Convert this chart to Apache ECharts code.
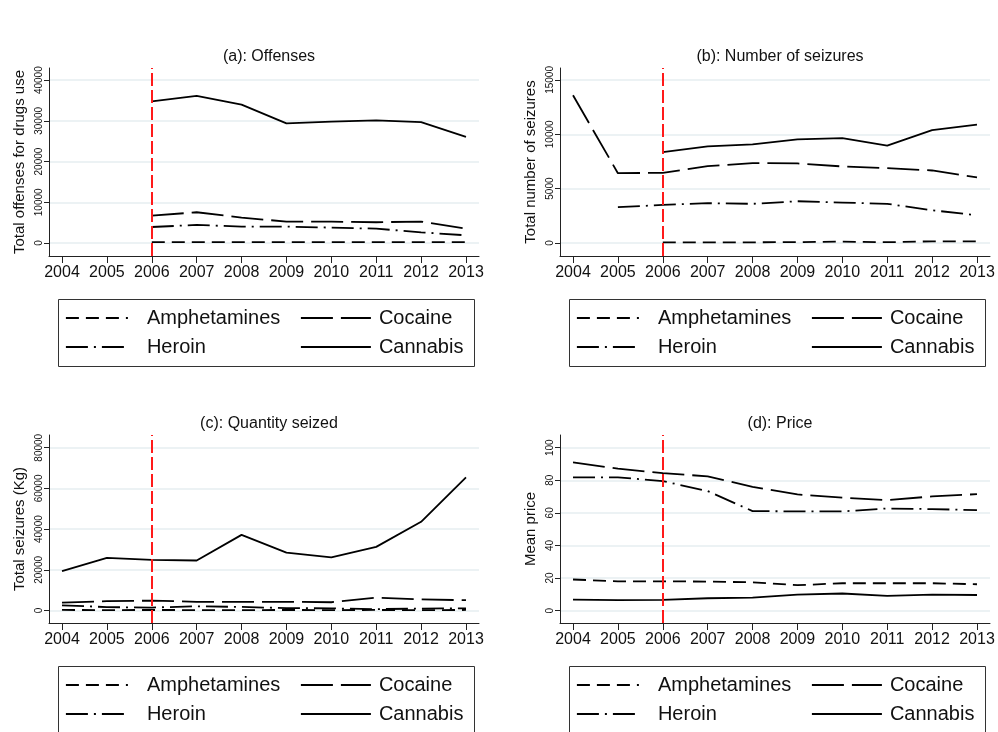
<!DOCTYPE html>
<html>
<head>
<meta charset="utf-8">
<script src="https://cdn.jsdelivr.net/npm/echarts@6/dist/echarts.min.js"></script>
<style>
html,body{margin:0;padding:0;background:#fff;}
#chart{width:998px;height:732px;}
</style>
</head>
<body>
<div id="chart"></div>
<script>
// ---- data ----
const years = [2004, 2005, 2006, 2007, 2008, 2009, 2010, 2011, 2012, 2013];
const drugs = ['Amphetamines', 'Cocaine', 'Heroin', 'Cannabis'];

const offAmph = [null, null, 200, 200, 200, 200, 200, 200, 200, 200];
const offCoc  = [null, null, 6700, 7550, 6230, 5250, 5250, 5100, 5250, 3500];
const offHer  = [null, null, 3930, 4430, 4020, 4020, 3770, 3520, 2620, 1890];
const offCan  = [null, null, 34800, 36150, 34000, 29400, 29800, 30150, 29700, 26050];

const seizAmph = [null, null, 60, 50, 60, 80, 120, 70, 150, 150];
const seizCoc  = [13590, 6420, 6455, 7070, 7350, 7320, 7040, 6890, 6670, 6030];
const seizHer  = [null, 3290, 3500, 3660, 3600, 3840, 3720, 3600, 3010, 2550];
const seizCan  = [null, null, 8360, 8880, 9070, 9530, 9650, 8950, 10390, 10880];

const qtyAmph = [300, 250, 300, 250, 250, 300, 250, 300, 250, 300];
const qtyCoc  = [3900, 4600, 4900, 4300, 4300, 4300, 4100, 6400, 5500, 5100];
const qtyHer  = [2600, 1700, 1500, 2100, 1800, 1200, 1100, 700, 1000, 1100];
const qtyCan  = [19340, 25900, 24900, 24600, 37200, 28500, 26100, 31300, 43600, 65400];

const priceAmph = [19.1, 18.0, 18.0, 17.8, 17.4, 15.6, 16.8, 16.8, 16.8, 16.2];
const priceCoc  = [91.0, 87.1, 84.4, 82.4, 76.0, 71.3, 69.3, 67.8, 70.1, 71.5];
const priceHer  = [81.8, 81.8, 79.5, 73.4, 61.1, 60.9, 60.9, 62.7, 62.3, 61.7];
const priceCan  = [6.8, 6.4, 6.6, 7.6, 8.0, 9.8, 10.5, 9.0, 9.8, 9.6];

const yTicksA = [0, 10000, 20000, 30000, 40000];
const yTicksB = [0, 5000, 10000, 15000];
const yTicksC = [0, 20000, 40000, 60000, 80000];
const yTicksD = [0, 20, 40, 60, 80, 100];

const titles = ['(a): Offenses', '(b): Number of seizures', '(c): Quantity seized', '(d): Price'];
const yNames = ['Total offenses for drugs use', 'Total number of seizures', 'Total seizures (Kg)', 'Mean price'];
const reformYear = 2006;

// ---- layout / style ----
const FONT = '"Liberation Sans", Arial, Helvetica, sans-serif';
const panels = [
  {left: 49,  top: 68,  height: 188, min: -3200, max: 43000, ticks: yTicksA, series: [offAmph, offCoc, offHer, offCan]},
  {left: 560, top: 68,  height: 188, min: -1200, max: 16100, ticks: yTicksB, series: [seizAmph, seizCoc, seizHer, seizCan]},
  {left: 49,  top: 435, height: 188, min: -6100, max: 86250, ticks: yTicksC, series: [qtyAmph, qtyCoc, qtyHer, qtyCan]},
  {left: 560, top: 435, height: 188, min: -7.6,  max: 107.8, ticks: yTicksD, series: [priceAmph, priceCoc, priceHer, priceCan]}
];
const PW = 430;
const dashStyles = [[13, 7], [32, 8], [22, 6, 2, 6], 'solid'];
const LW = 1.8;

const grids = [], xAxes = [], yAxes = [], series = [], titleArr = [], legends = [], graphics = [];

panels.forEach((p, k) => {
  grids.push({left: p.left, top: p.top, width: PW, height: p.height, outerBoundsMode: 'none', containLabel: false});
  xAxes.push({
    type: 'value', gridIndex: k, min: 2003.71, max: 2013.29,
    axisLine: {show: true, onZero: false, lineStyle: {color: '#222', width: 1}},
    axisTick: {show: true, customValues: years, length: 7, lineStyle: {color: '#222'}},
    axisLabel: {customValues: years, color: '#111', fontSize: 16, fontFamily: FONT, margin: 9, formatter: v => String(v)},
    splitLine: {show: false}
  });
  yAxes.push({
    type: 'value', gridIndex: k, min: p.min, max: p.max,
    name: yNames[k], nameLocation: 'middle', nameGap: 22, nameRotate: 90,
    nameTextStyle: {color: '#111', fontSize: 15, fontFamily: FONT},
    axisLine: {show: true, lineStyle: {color: '#222', width: 1}},
    axisTick: {show: true, customValues: p.ticks, length: 5, lineStyle: {color: '#222'}},
    axisLabel: {customValues: p.ticks, rotate: 90, color: '#111', fontSize: 10, fontFamily: FONT, margin: 5, formatter: v => String(v)},
    splitLine: {show: true, customValues: p.ticks, lineStyle: {color: '#e6eef1', width: 1.5}}
  });
  p.series.forEach((vals, j) => {
    const s = {
      name: drugs[j], type: 'line', xAxisIndex: k, yAxisIndex: k,
      data: years.map((y, i) => [y, vals[i]]),
      symbol: 'none', connectNulls: false, silent: true,
      itemStyle: {color: '#000'},
      lineStyle: {color: '#000', width: LW, type: dashStyles[j]},
      z: 3
    };
    if (j === 3) {
      s.markLine = {
        silent: true, symbol: 'none', label: {show: false},
        lineStyle: {color: '#ff1a1a', width: 2, type: [13, 4]},
        data: [{xAxis: reformYear}]
      };
    }
    series.push(s);
  });
  const cx = p.left + PW / 2;
  titleArr.push({
    text: titles[k], left: cx, top: p.top - 16, textAlign: 'center', textVerticalAlign: 'middle',
    textStyle: {fontSize: 16, fontWeight: 'normal', color: '#111', fontFamily: FONT}
  });
  // legend box
  const bx = p.left + 7, by = p.top + p.height + 41;
  graphics.push({
    type: 'rect', left: bx, top: by, silent: true,
    shape: {width: 416, height: 67},
    style: {fill: 'none', stroke: '#333', lineWidth: 1}
  });
  const legCommon = {
    orient: 'vertical', top: by + 11, itemHeight: 14, itemGap: 9,
    selectedMode: false, padding: 0,
    itemStyle: {opacity: 0, borderWidth: 0},
    lineStyle: {width: LW}
  };
  legends.push(Object.assign({}, legCommon, {
    left: bx + 9, itemWidth: 62, data: ['Amphetamines', 'Heroin'],
    textStyle: {fontSize: 20, color: '#111', fontFamily: FONT, padding: [0, 0, 0, 14]}
  }));
  legends.push(Object.assign({}, legCommon, {
    left: bx + 244, itemWidth: 70, data: ['Cocaine', 'Cannabis'],
    textStyle: {fontSize: 20, color: '#111', fontFamily: FONT, padding: [0, 0, 0, 3]}
  }));
});

const chart = echarts.init(document.getElementById('chart'), null, {renderer: 'canvas'});
chart.setOption({
  backgroundColor: '#fff',
  animation: false,
  title: titleArr,
  grid: grids,
  xAxis: xAxes,
  yAxis: yAxes,
  legend: legends,
  series: series,
  graphic: graphics
});
</script>
</body>
</html>
